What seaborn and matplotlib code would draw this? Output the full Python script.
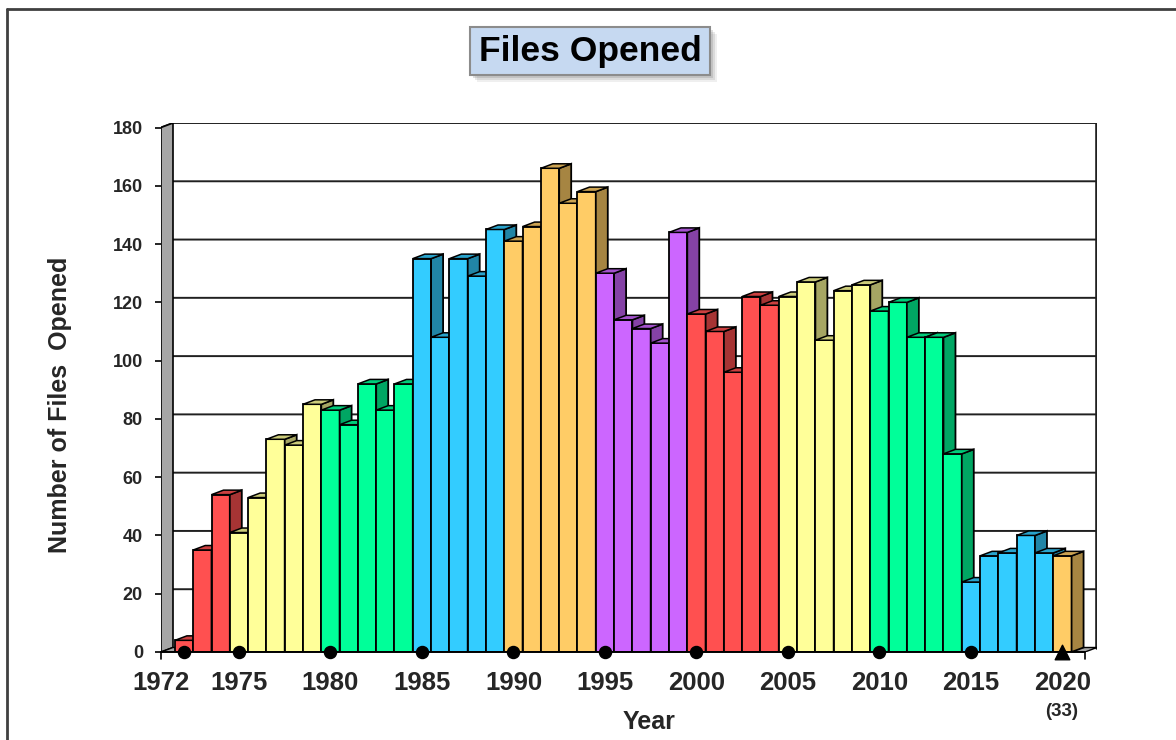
import numpy as np
import pandas as pd
import matplotlib
matplotlib.use("Agg")
import matplotlib.pyplot as plt
from matplotlib.patches import Polygon, Rectangle
from matplotlib.colors import to_rgb
import seaborn as sns

# Data
years = list(range(1972, 2021))
files_opened = [4, 35, 54, 41, 53, 73, 71, 85, 83, 78,
                92, 83, 92, 135, 108, 135, 129, 145, 141, 146,
                166, 154, 158, 130, 114, 111, 106, 144, 116, 110,
                96, 122, 119, 122, 127, 107, 124, 126, 117, 120,
                108, 108, 68, 24, 33, 34, 40, 34, 33]
tick_years = [1975, 1980, 1985, 1990, 1995, 2000, 2005, 2010, 2015, 2020]
dot_years = [1972, 1975, 1980, 1985, 1990, 1995, 2000, 2005, 2010, 2015]
period_colors = ["#ff5050", "#ffff99", "#00ff99", "#33ccff", "#ffcc66", "#cc66ff"]

df = pd.DataFrame({"Year": years, "Files": files_opened})
df["color"] = [period_colors[((y - 1970) // 5) % 6] for y in years]

sns.set_theme(style="white")
plt.rcParams["font.family"] = ["Liberation Sans", "DejaVu Sans"]
plt.rcParams["font.weight"] = "bold"

W, H = 1176, 740
fig = plt.figure(figsize=(W / 100, H / 100), dpi=100)

# axes box in pixels (front-left to back-right)
px_left, px_right, px_bottom, px_top = 161, 1097, 652, 123
ax = fig.add_axes([px_left / W, (H - px_bottom) / H,
                   (px_right - px_left) / W, (px_bottom - px_top) / H])

x_left = 1970.74
x_right = 2021.89
ppy = 18.30                 # pixels per year
ppu = 524.5 / 180           # pixels per unit
dx = 12 / ppy               # depth offset
dy = 4.5 / ppu
ymax = 180

sns.barplot(data=df, x="Year", y="Files", native_scale=True, width=1.0,
            color="white", edgecolor="black", linewidth=1.3, ax=ax)

ax.set_xlim(x_left, x_right)
ax.set_ylim(0, ymax + dy)
for s in ax.spines.values():
    s.set_visible(False)


def shade(c, f):
    r, g, b = to_rgb(c)
    return (r * f, g * f, b * f)


# back wall, left wall, floor
front_right = x_right - dx
ax.add_patch(Polygon([(x_left, 0), (x_left + dx, dy), (x_left + dx, ymax + dy), (x_left, ymax)],
                     closed=True, fc="#a6a6a6", ec="black", lw=1.2, zorder=0.6))
ax.add_patch(Polygon([(x_left, 0), (front_right, 0), (x_right, dy), (x_left + dx, dy)],
                     closed=True, fc="#a6a6a6", ec="black", lw=1.0, zorder=0.6))
for v in range(20, ymax + 1, 20):
    ax.plot([x_left, x_left + dx, x_right], [v, v + dy, v + dy],
            color="#202020", lw=1.4, zorder=0.5)
ax.plot([x_right, x_right], [dy, ymax + dy], color="#202020", lw=2.6, zorder=0.5)

# 3D faces for each bar
for i, (p, c) in enumerate(zip(ax.patches, df["color"])):
    x0 = p.get_x()
    x1 = x0 + p.get_width()
    h = p.get_height()
    p.set_facecolor(c)
    p.set_zorder(3 * i + 1)
    side = Polygon([(x1, 0), (x1 + dx, dy), (x1 + dx, h + dy), (x1, h)], closed=True,
                   fc=shade(c, 0.65), ec="black", lw=1.3, zorder=3 * i + 2)
    top = Polygon([(x0, h), (x1, h), (x1 + dx, h + dy), (x0 + dx, h + dy)], closed=True,
                  fc=shade(c, 0.8), ec="black", lw=1.1, zorder=3 * i + 3)
    ax.add_patch(side)
    ax.add_patch(top)

zmax = 3 * len(years) + 5
ax.plot([x_left, front_right], [0, 0], color="black", lw=1.4, zorder=zmax, clip_on=False)
ax.plot([x_left, x_left], [0, -2.5], color="black", lw=1.2, zorder=zmax, clip_on=False)
ax.plot([front_right, front_right], [0, -2.5], color="black", lw=1.2, zorder=zmax, clip_on=False)
ax.scatter(dot_years, [0] * len(dot_years), s=75, color="black", zorder=zmax + 1, clip_on=False)
ax.scatter([2020], [0], s=110, marker="^", color="black", zorder=zmax + 1, clip_on=False)

# ticks and labels
ax.set_yticks(range(0, ymax + 1, 20))
ax.set_yticklabels([str(v) for v in range(0, ymax + 1, 20)], fontsize=13, fontweight="bold")
ax.set_xticks([x_left] + tick_years)
ax.set_xticklabels(["1972"] + [str(y) for y in tick_years], fontsize=18.5, fontweight="bold")
ax.tick_params(axis="y", left=True, length=4, width=1.2, color="black", pad=9)
ax.tick_params(axis="x", bottom=False, length=0, pad=14)
ax.set_xlabel("")
ax.set_ylabel("")

fig.text(1062 / W, 1 - 711 / H, "(33)", ha="center", va="center", fontsize=13.5, fontweight="bold")
fig.text(649 / W, 1 - 722 / H, "Year", ha="center", va="center", fontsize=18, fontweight="bold")
fig.text(60 / W, 1 - 405 / H, "Number of Files  Opened", ha="center", va="center",
         rotation=90, fontsize=18, fontweight="bold")

# title box with soft shadow
for k, a in enumerate([0.12, 0.18, 0.25]):
    off = 7 - 2 * k
    fig.add_artist(Rectangle(((470 + off) / W, 1 - (75 + off) / H), 240 / W, 48 / H,
                             transform=fig.transFigure, fc="#808080", ec="none", alpha=a))
fig.add_artist(Rectangle((470 / W, 1 - 75 / H), 240 / W, 48 / H, transform=fig.transFigure,
                         fc="#c6d9f1", ec="#8c8c8c", lw=1.5))
fig.text(590 / W, 1 - 51 / H, "Files Opened", ha="center", va="center", fontsize=25.5,
         fontweight="bold", color="black")

# outer frame (top and left edges)
fig.add_artist(plt.Line2D([7 / W, 1], [1 - 9 / H, 1 - 9 / H], color="#404040", lw=2))
fig.add_artist(plt.Line2D([7 / W, 7 / W], [0, 1 - 9 / H], color="#404040", lw=2))

fig.savefig("out.png", dpi=100)
